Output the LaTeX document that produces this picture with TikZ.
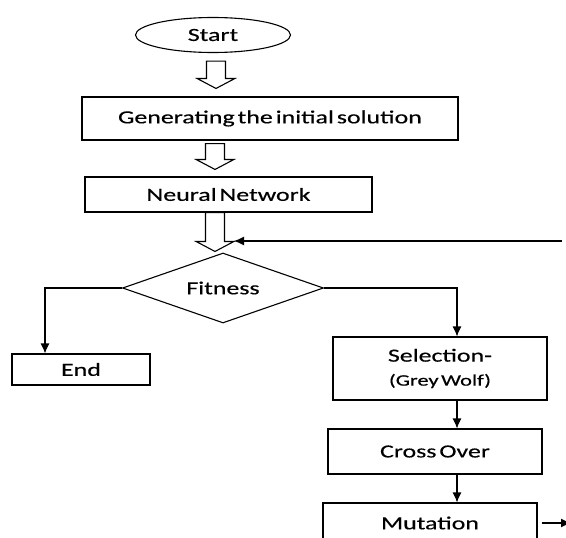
\documentclass[tikz,border=0pt]{standalone}
\usepackage{fontspec}
\setmainfont[FakeStretch=1.4,WordSpace=0.5,FakeBold=0.4]{Carlito}
\usetikzlibrary{arrows,arrows.meta,calc,positioning,shapes,shapes.geometric}

% hollow block arrow pointing down, from #1 to #2
\newcommand{\blockarrow}[2]{%
	\draw[fill=white] let \p1=#1, \p2=#2 in
		(\x1-9.5pt,\y1) -- (\x1-9.5pt,\y2+10pt) -- (\x1-19pt,\y2+10pt) -- (\x1,\y2)
		-- (\x1+19pt,\y2+10pt) -- (\x1+9.5pt,\y2+10pt) -- (\x1+9.5pt,\y1) -- cycle;}

\begin{document}
\begin{tikzpicture}[x=1pt,y=-1pt,align=center,line width=1.1pt,font=\fontsize{18.5}{22}\selectfont,
	box/.style={draw,rectangle,inner sep=0pt},
	>={Latex[length=10pt,width=9pt]}]
	\useasboundingbox (0,0) rectangle (566,538);
	\draw (213,35) node[draw,ellipse,minimum width=155,minimum height=35](start){Start};
	\draw (270,118.5) node[box,minimum width=376,minimum height=43](gen){Generating the initial solution};
	\draw (228.5,194.5) node[box,minimum width=287,minimum height=35](nn){Neural Network};
	\draw (223,288) node[draw,diamond,aspect=2.9,inner sep=0pt,minimum width=201,minimum height=70](fit){Fitness};
	\draw (81,369.5) node[box,minimum width=138,minimum height=31](end){End};
	\draw (440,368.5) node[box,minimum width=214,minimum height=63](sel){Selection-\\[2pt]{\fontsize{16}{18}\selectfont (Grey Wolf)}};
	\draw (435,451.5) node[box,minimum width=214,minimum height=45](cross){Cross Over};
	\draw (430,523) node[box,minimum width=214,minimum height=40](mut){Mutation};
	% free ends and bend columns
	\coordinate (lx) at (45,0);
	\coordinate (rx) at (457,0);
	\coordinate (back) at (562,241);
	\coordinate (hit) at (234,241);
	\coordinate (out) at (571,523);
	% block arrows
	\blockarrow{($(start.south)+(3,8)$)}{($(gen.north)+(0,-8)$)}
	\blockarrow{($(gen.south)+(-55,3)$)}{($(nn.north)+(0,-7)$)}
	\blockarrow{($(nn.south)+(-13.5,0)$)}{($(fit.north)+(0,-1)$)}
	% connectors
	\draw[->] (fit.west) -| (lx |- end.north);
	\draw[->] (fit.east) -| (rx |- sel.north);
	\draw[->] (rx |- sel.south) -- (rx |- cross.north);
	\draw[->] (rx |- cross.south) -- (rx |- mut.north);
	\draw[->] (back) -- (hit);
	\draw[->] ($(mut.east)+(4,0)$) -- (out);
\end{tikzpicture}
\end{document}
